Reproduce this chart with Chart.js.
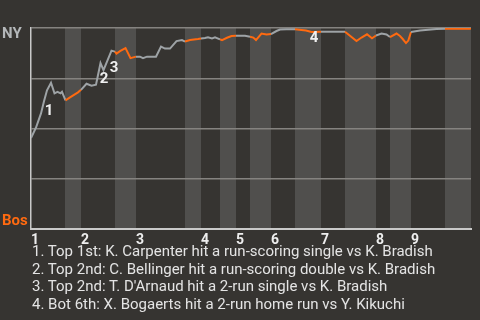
<!DOCTYPE html>
<html>
<head>
<meta charset="utf-8">
<script src="https://cdn.jsdelivr.net/npm/chart.js@4/dist/chart.umd.min.js"></script>
<style>
  html, body { margin: 0; padding: 0; background: #363431; }
  #wrap { position: relative; width: 480px; height: 320px; overflow: hidden; }
  canvas { position: absolute; left: 0; top: 0; }
  #notes { position: absolute; left: 32px; top: 243px; font-family: Roboto, sans-serif; font-size: 15px; line-height: 17.7px; color: #e4e4e4; white-space: nowrap; }
</style>
</head>
<body>
<div id="wrap">
  <canvas id="c" width="480" height="320"></canvas>
  <div id="notes"></div>
</div>
<script>
// ---- data ----
const inningLabels = ['1', '2', '3', '4', '5', '6', '7', '8', '9'];
const topHalfStarts = [0, 50, 105, 170, 205, 240, 290, 345, 380];
const bottomHalfStarts = [34, 84, 154, 189, 219, 264, 314, 359, 414];
const gameEnd = 440;
const progress = [0,5,10,13,16,20,23.5,26.5,29.5,31,34.5,39,43,47,50,55.5,60.5,65,69.5,72.5,80.5,84,85.5,89,94.5,99.5,105,109,112,116,125,130,134,139,145.5,151,154,159,167,170,174,177,181,184,189,191,196,200.5,205,214,219,222.3,225,230.5,235.5,240,245.5,249,255.5,264,270.5,275,280.5,290,314,325.5,330.5,336,341,345,350.5,355.5,359,365.5,369,371.5,375,377.3,380,389,405.5,414,439,440];
const nyWinPct = [45.25,50.5,57.5,63.5,69,72.75,67.5,68.25,67.5,68.25,64,65.5,66.75,68,69.25,72.25,71.25,71.75,82.5,79,88.75,88.25,87.25,88.5,90,85,85.75,85.75,85,85.75,85.75,90.75,89.75,89.75,93.5,94,93.25,94,94.5,94.75,95,95.35,94.85,95.35,94.35,94,95.15,96,96.15,96.15,95.65,95.25,94,97.25,96.75,97,98.5,99.25,99.35,99.35,99,98.75,98,98.15,98.15,93.5,95.25,96.85,94.85,96.25,97.25,96.75,95.5,97.25,96,94.65,92.5,93.75,98,98.75,99.5,99.6,99.6,100];
const eventLabels = ['1', '2', '3', '4'];
const eventPointIndex = [4, 18, 20, 62];
const eventNotes = [
  '1. Top 1st: K. Carpenter hit a run-scoring single vs K. Bradish',
  '2. Top 2nd: C. Bellinger hit a run-scoring double vs K. Bradish',
  '3. Top 2nd: T. D\'Arnaud hit a 2-run single vs K. Bradish',
  '4. Bot 6th: X. Bogaerts hit a 2-run home run vs Y. Kikuchi'
];
const teamTop = 'NY';
const teamBottom = 'Bos';

// ---- styles ----
const GRAY = '#9ea3a6';
const ORANGE = '#ff6a10';
const BAND = '#504f4d';
const labelOffsets = [[2, 21], [3.5, 16], [2.5, 17.5], [2.5, 6]];

document.getElementById('notes').innerHTML = eventNotes.map(t => '<div>' + t.replace(/&/g,'&amp;').replace(/</g,'&lt;') + '</div>').join('');

function inBottomHalf(x) {
  for (let i = 0; i < bottomHalfStarts.length; i++) {
    const end = i + 1 < topHalfStarts.length ? topHalfStarts[i + 1] : gameEnd;
    if (x >= bottomHalfStarts[i] && x < end) return true;
  }
  return false;
}

const bgPlugin = {
  id: 'bg',
  beforeDraw(chart) {
    const { ctx, chartArea: a, scales: { x } } = chart;
    ctx.save();
    ctx.fillStyle = '#363431';
    ctx.fillRect(0, 0, chart.width, chart.height);
    ctx.fillStyle = BAND;
    for (let i = 0; i < bottomHalfStarts.length; i++) {
      const end = i + 1 < topHalfStarts.length ? topHalfStarts[i + 1] : gameEnd;
      const x0 = x.getPixelForValue(bottomHalfStarts[i]);
      const x1 = x.getPixelForValue(end);
      ctx.fillRect(x0, a.top, x1 - x0, a.bottom - a.top);
    }
    ctx.restore();
  },
  afterDraw(chart) {
    const { ctx, scales: { x, y } } = chart;
    ctx.save();
    ctx.textBaseline = 'middle';
    ctx.textAlign = 'left';
    ctx.font = 'bold 15px Roboto';
    ctx.fillStyle = '#b4b7b9';
    ctx.fillText(teamTop, 2, y.getPixelForValue(100) + 6);
    ctx.fillStyle = ORANGE;
    ctx.font = 'bold 15px Roboto';
    ctx.fillText(teamBottom, 2, y.getPixelForValue(0) - 8);
    ctx.textAlign = 'center';
    ctx.font = 'bold 15px Roboto';
    ctx.fillStyle = '#f0f0f0';
    eventLabels.forEach((lab, i) => {
      const k = eventPointIndex[i];
      const px = x.getPixelForValue(progress[k]) + labelOffsets[i][0];
      const py = y.getPixelForValue(nyWinPct[k]) + labelOffsets[i][1];
      ctx.fillText(lab, px, py);
    });
    ctx.restore();
  }
};

new Chart(document.getElementById('c'), {
  type: 'line',
  data: {
    datasets: [{
      data: progress.map((p, i) => ({ x: p, y: nyWinPct[i] })),
      borderWidth: 2,
      borderColor: GRAY,
      pointRadius: 0,
      tension: 0,
      segment: {
        borderColor: ctx => inBottomHalf(ctx.p0.parsed.x) ? ORANGE : GRAY
      }
    }]
  },
  options: {
    responsive: false,
    animation: false,
    events: [],
    layout: { padding: { top: 28, right: 9, left: 0, bottom: 0 } },
    plugins: { legend: { display: false }, tooltip: { enabled: false } },
    scales: {
      x: {
        type: 'linear',
        min: 0,
        max: gameEnd,
        afterFit: s => { s.height = 91; },
        afterBuildTicks: s => { s.ticks = topHalfStarts.map(v => ({ value: v })); },
        grid: { display: false, drawTicks: false },
        border: { display: true, color: '#c9c9c9', width: 2 },
        ticks: {
          autoSkip: false,
          maxRotation: 0,
          align: 'start',
          padding: 3,
          color: '#eeeeee',
          font: { family: 'Roboto', weight: 'bold', size: 14 },
          callback: (v, i) => inningLabels[i]
        }
      },
      y: {
        min: 0,
        max: 100,
        afterFit: s => { s.width = 31; },
        afterBuildTicks: s => { s.ticks = [0, 25, 50, 75, 100].map(v => ({ value: v })); },
        grid: { color: '#858380', lineWidth: 1.5, drawTicks: false },
        border: { display: true, color: '#c9c9c9', width: 1.5 },
        ticks: { display: false }
      }
    }
  },
  plugins: [bgPlugin]
});
</script>
</body>
</html>
